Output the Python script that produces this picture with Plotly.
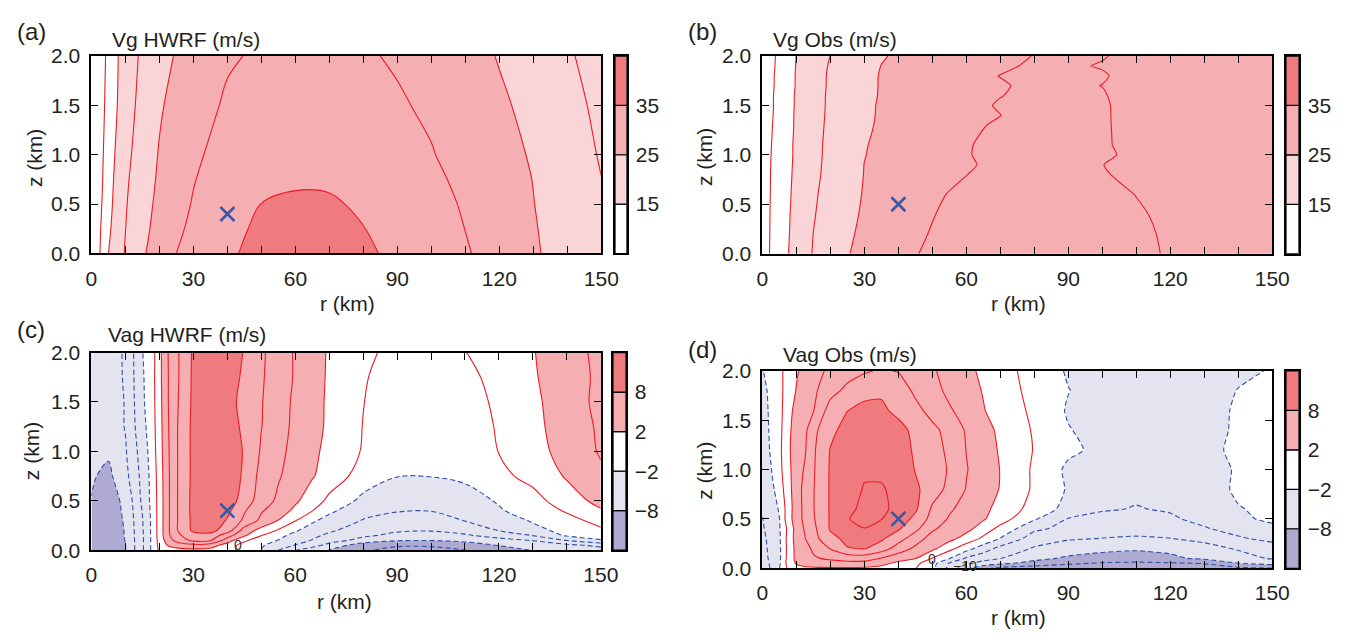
import plotly.graph_objects as go

# ---------------------------------------------------------------------------
# Radius (km) / height (km) grids and field values (m/s) for each panel
# ---------------------------------------------------------------------------

# Vg HWRF
R_VG_HWRF = [0, 2.5, 5, 10, 15, 20, 25, 30, 40, 50, 60, 70, 80, 90, 100, 110, 120, 130, 140, 150]
Z_VG_HWRF = [0, 0.25, 0.5, 0.75, 1.0, 1.5, 2.0]
VG_HWRF = [
    [0, 10.0, 15.0, 20.4, 24.5, 27.0, 30.05, 31.3, 34.5, 36.0, 37.6, 37.5, 35.8, 34.0, 32.3, 30.4, 28.2, 25.5, 23.3, 21.2],
    [0, 9.6, 14.2, 19.95, 24.0, 26.3, 29.3, 30.8, 33.6, 35.9, 36.6, 36.5, 35.1, 33.3, 31.8, 29.95, 28.0, 25.3, 23.1, 20.9],
    [0, 9.0, 13.6, 19.6, 23.6, 25.9, 28.5, 30.3, 32.9, 35.05, 35.6, 35.5, 34.4, 32.8, 31.3, 29.6, 27.6, 25.1, 22.6, 20.3],
    [0, 8.5, 13.2, 19.2, 23.0, 25.6, 27.9, 29.8, 32.3, 33.9, 34.5, 34.4, 33.5, 32.2, 30.8, 29.1, 27.2, 24.9, 22.3, 20.05],
    [0, 8.2, 12.8, 18.7, 22.4, 25.3, 27.4, 29.3, 31.6, 33.0, 33.5, 33.4, 32.6, 31.5, 30.2, 28.6, 26.8, 24.5, 21.9, 19.7],
    [0, 7.6, 12.0, 17.8, 21.6, 24.5, 26.4, 28.1, 30.6, 31.7, 32.1, 32.0, 31.3, 30.4, 29.4, 27.9, 25.8, 23.6, 21.4, 19.0],
    [0, 7.1, 11.5, 17.6, 20.8, 23.6, 25.3, 26.9, 29.5, 30.6, 31.0, 30.9, 30.4, 29.6, 28.5, 27.0, 24.7, 22.6, 20.5, 18.3],
]

# Vg Obs
R_VG_OBS = [0, 2.5, 5, 10, 15, 20, 25, 30, 35, 40, 50, 60, 70, 80, 90, 100, 110, 120, 135, 150]
Z_VG_OBS = [0, 0.2, 0.4, 0.6, 0.8, 0.9, 1.0, 1.1, 1.2, 1.3, 1.4, 1.5, 1.6, 1.7, 1.8, 1.9, 2.0]
VG_OBS = [
    [6, 10.8, 12.9, 16.8, 20.3, 22.5, 24.8, 26.1, 27.3, 28.5, 31.0, 31.7, 32.4, 33.0, 33.0, 32.3, 31.2, 29.5, 28.8, 28.0],
    [6, 10.6, 12.7, 16.6, 20.05, 22.2, 24.4, 25.8, 26.9, 28.05, 30.3, 31.0, 31.7, 32.4, 32.6, 32.0, 31.0, 29.3, 28.6, 28.0],
    [6, 10.5, 12.6, 16.4, 19.7, 21.9, 24.0, 25.5, 26.6, 27.7, 29.8, 31.8, 32.5, 33.0, 32.8, 32.0, 30.6, 28.9, 28.3, 27.8],
    [6, 10.3, 12.4, 16.2, 19.4, 21.6, 23.5, 25.3, 26.2, 27.2, 29.2, 31.2, 32.2, 32.8, 32.6, 31.4, 29.9, 29.0, 28.2, 27.6],
    [6, 10.2, 12.2, 16.0, 19.0, 21.3, 23.3, 25.1, 25.9, 26.7, 28.4, 29.95, 31.2, 32.0, 31.8, 30.6, 28.2, 27.8, 27.5, 27.3],
    [6, 10.1, 12.1, 15.9, 18.9, 21.2, 23.2, 25.05, 25.8, 26.5, 28.0, 29.5, 31.1, 31.8, 31.5, 30.1, 28.1, 27.8, 27.5, 27.3],
    [6, 9.95, 12.0, 15.8, 18.8, 21.1, 23.1, 24.9, 25.8, 26.6, 28.1, 29.7, 31.5, 32.2, 32.0, 30.8, 28.9, 28.3, 27.8, 27.5],
    [6, 9.85, 12.0, 15.8, 18.7, 21.1, 22.9, 24.8, 25.7, 26.5, 28.1, 29.7, 31.2, 32.0, 31.9, 30.5, 28.8, 28.3, 27.8, 27.5],
    [6, 9.7, 11.9, 15.7, 18.6, 21.0, 22.8, 24.6, 25.6, 26.4, 27.9, 29.4, 31.0, 31.8, 31.6, 30.5, 28.7, 28.2, 27.8, 27.5],
    [6, 9.6, 11.8, 15.6, 18.5, 20.9, 22.6, 24.4, 25.5, 26.2, 27.7, 29.1, 30.6, 31.5, 31.5, 30.5, 28.6, 28.2, 27.8, 27.5],
    [6, 9.4, 11.7, 15.6, 18.4, 20.8, 22.5, 24.3, 25.4, 26.0, 27.3, 28.7, 29.95, 32.4, 32.0, 30.6, 28.2, 27.9, 27.6, 27.4],
    [6, 9.3, 11.6, 15.5, 18.4, 20.7, 22.4, 24.2, 25.4, 26.1, 27.5, 28.9, 30.33, 31.3, 31.6, 30.6, 28.1, 27.9, 27.6, 27.4],
    [6, 9.3, 11.6, 15.5, 18.3, 20.7, 22.3, 24.0, 25.3, 25.9, 27.2, 28.6, 29.9, 30.9, 31.4, 30.3, 28.3, 28.0, 27.6, 27.4],
    [6, 9.2, 11.3, 15.3, 18.2, 20.6, 22.3, 24.0, 25.25, 25.9, 27.1, 28.4, 29.6, 30.9, 30.6, 29.95, 28.6, 28.2, 27.7, 27.4],
    [6, 9.1, 11.4, 15.3, 18.1, 20.6, 22.2, 23.9, 25.25, 25.9, 27.3, 28.7, 30.1, 31.0, 31.2, 30.3, 28.8, 28.3, 27.8, 27.5],
    [6, 9.0, 11.1, 15.2, 17.9, 20.4, 21.9, 23.6, 25.06, 25.7, 26.9, 28.1, 29.3, 30.6, 30.4, 29.8, 29.0, 28.5, 27.9, 27.5],
    [6, 9.0, 10.9, 15.1, 17.6, 20.06, 21.6, 23.1, 24.7, 25.5, 26.6, 27.8, 29.0, 30.1, 30.6, 30.2, 29.1, 28.6, 28.0, 27.6],
]

# Vag HWRF
R_VAG_HWRF = [0, 5, 10, 15, 17.5, 20, 22.5, 25, 30, 35, 40, 45, 50, 55, 60, 65, 70, 80, 90, 100, 110, 120, 130, 140, 150]
Z_VAG_HWRF = [0, 0.05, 0.1, 0.15, 0.2, 0.3, 0.4, 0.5, 0.75, 1.0, 1.25, 1.5, 1.75, 2.0]
VAG_HWRF = [
    [-9.5, -9.5, -8.05, -4.3, -1.95, 0.3, 1.0, 1.3, 1.5, 1.3, 0.6, -0.6, -2.05, -4.05, -5.95, -7.0, -8.05, -9.8, -10.5, -10.5, -10.05, -9.0, -7.9, -7.2, -6.8],
    [-9.3, -9.4, -8.05, -4.3, -1.95, 0.6, 2.1, 2.8, 3.4, 3.0, 1.0, -0.8, -1.8, -2.8, -4.1, -5.3, -6.6, -9.2, -9.8, -9.8, -9.2, -7.9, -7.1, -6.5, -5.5],
    [-9.1, -9.3, -7.95, -4.3, -1.95, 0.7, 3.0, 4.6, 6.5, 6.2, 3.05, 0.4, -1.1, -2.05, -3.0, -4.1, -5.2, -6.6, -7.8, -7.9, -7.4, -6.6, -5.9, -3.95, -2.2],
    [-9.0, -9.2, -7.9, -4.3, -1.95, 0.8, 3.5, 5.5, 7.2, 7.4, 4.8, 2.3, 0.1, -1.5, -2.5, -3.5, -4.4, -5.7, -6.4, -6.6, -6.2, -5.3, -3.9, -1.7, -0.8],
    [-8.9, -9.1, -7.9, -4.2, -1.9, 0.8, 3.6, 5.8, 8.4, 8.6, 7.05, 3.1, 1.3, -0.2, -1.8, -2.8, -3.7, -5.05, -5.8, -5.9, -5.4, -3.95, -2.6, -1.4, -0.3],
    [-8.6, -9.0, -7.8, -4.1, -1.9, 0.8, 3.6, 5.8, 8.5, 9.4, 7.8, 5.6, 3.5, 1.95, 0.1, -1.7, -2.7, -4.1, -4.6, -4.7, -3.95, -3.05, -1.8, -0.6, 0.6],
    [-8.3, -8.9, -7.7, -3.9, -1.8, 0.8, 3.6, 5.8, 8.6, 9.7, 8.5, 6.2, 4.2, 2.9, 1.6, 0.05, -1.6, -3.4, -3.9, -3.95, -3.3, -2.2, -1.05, 0.2, 1.8],
    [-8.05, -8.8, -7.6, -3.6, -1.7, 0.8, 3.6, 5.8, 8.6, 9.8, 9.2, 7.05, 5.05, 3.6, 2.3, 1.05, -0.5, -2.5, -3.3, -3.4, -2.9, -1.8, -0.7, 1.05, 2.6],
    [-7.8, -8.45, -6.6, -3.4, -1.6, 0.9, 3.6, 5.8, 8.5, 9.9, 9.6, 7.6, 5.4, 4.2, 3.1, 2.15, 1.2, -0.9, -1.95, -1.95, -1.6, -0.5, 0.6, 2.2, 3.6],
    [-7.7, -7.7, -6.2, -3.05, -1.4, 1.1, 3.7, 5.8, 8.5, 9.7, 9.5, 7.8, 5.8, 4.6, 3.3, 2.4, 1.5, -0.15, -1.4, -1.9, -1.4, 0.05, 1.4, 2.6, 4.2],
    [-7.6, -7.2, -5.9, -2.6, -1.2, 1.2, 3.8, 5.8, 8.5, 9.6, 9.2, 7.5, 6.05, 4.9, 3.5, 2.6, 1.7, -0.05, -1.3, -1.8, -1.1, 0.2, 1.5, 2.9, 4.3],
    [-7.5, -7.05, -5.9, -2.3, -1.1, 1.3, 3.9, 5.7, 8.4, 9.5, 9.05, 7.1, 6.1, 5.0, 3.6, 2.7, 1.7, 0.05, -1.2, -1.7, -0.9, 0.4, 1.6, 3.05, 4.5],
    [-7.4, -6.9, -5.8, -2.2, -1.1, 1.4, 3.9, 5.6, 8.35, 9.4, 9.1, 7.6, 6.2, 5.1, 3.8, 2.8, 1.75, 0.2, -1.05, -1.5, -0.6, 0.7, 1.8, 3.1, 4.4],
    [-7.3, -6.8, -5.8, -2.05, -1.2, 1.4, 3.95, 5.6, 8.3, 9.3, 9.05, 7.9, 6.3, 5.1, 3.8, 2.8, 1.8, 0.6, -0.8, -1.3, -0.05, 0.9, 1.9, 3.2, 4.5],
]

# Vag Obs
R_VAG_OBS = [0, 2.5, 5, 7.5, 10, 12.5, 15, 20, 25, 30, 35, 40, 45, 50, 55, 60, 65, 70, 80, 90, 100, 110, 120, 130, 140, 150]
Z_VAG_OBS = [0, 0.05, 0.1, 0.2, 0.3, 0.4, 0.5, 0.6, 0.8, 1.0, 1.2, 1.4, 1.6, 1.8, 2.0]
VAG_OBS = [
    [-4.8, -3.9, -2.05, 0.3, 1.3, 1.6, 1.7, 1.8, 1.8, 1.7, 1.4, 0.9, 0.1, -1.6, -4.5, -7.6, -9.5, -10.6, -11.2, -11.5, -11.6, -11.6, -11.4, -11.05, -10.5, -10.1],
    [-4.7, -3.8, -2.3, 0.7, 2.2, 2.7, 3.05, 3.3, 3.4, 3.3, 2.6, 1.5, 0.5, -1.2, -4.2, -5.6, -6.8, -7.6, -8.6, -9.6, -10.2, -10.4, -10.2, -9.9, -8.05, -7.2],
    [-4.6, -3.7, -2.4, 0.6, 2.5, 3.2, 3.8, 4.3, 4.8, 4.9, 3.9, 2.9, 2.05, -0.1, -1.9, -4.3, -5.2, -5.95, -7.5, -8.3, -8.6, -8.7, -8.4, -7.6, -6.8, -5.8],
    [-4.5, -3.6, -2.4, 0.5, 2.6, 3.4, 4.3, 6.1, 7.9, 8.1, 7.05, 5.05, 3.6, 2.5, 0.6, -1.2, -3.05, -4.6, -6.2, -7.05, -7.6, -7.8, -7.5, -6.7, -5.8, -5.1],
    [-4.4, -3.5, -2.3, 0.6, 2.8, 3.9, 5.3, 7.4, 8.5, 8.9, 8.3, 6.8, 4.9, 3.2, 2.6, 1.2, -0.4, -2.1, -5.05, -5.8, -6.05, -6.2, -6.05, -5.5, -4.3, -3.4],
    [-4.2, -3.3, -2.2, 0.4, 2.8, 4.2, 5.5, 8.2, 9.7, 9.95, 9.4, 8.2, 6.5, 4.3, 3.2, 2.6, 1.05, -0.6, -3.6, -4.6, -5.2, -5.4, -5.05, -4.2, -3.2, -2.4],
    [-4.05, -3.2, -2.05, 1.05, 3.05, 4.5, 5.8, 8.2, 9.9, 10.6, 10.05, 9.05, 7.5, 5.3, 3.8, 2.9, 2.2, 0.9, -1.8, -4.1, -4.6, -4.8, -4.3, -3.4, -2.3, -1.7],
    [-3.8, -3.05, -1.8, 0.9, 3.1, 4.5, 5.9, 8.2, 9.6, 10.4, 10.3, 9.6, 8.3, 5.7, 4.3, 3.2, 2.3, 1.6, -0.9, -2.6, -3.8, -4.1, -3.8, -3.1, -2.1, -1.6],
    [-3.5, -2.6, -1.05, 1.2, 3.1, 4.6, 5.9, 8.2, 9.4, 10.1, 10.1, 9.7, 8.4, 6.9, 5.5, 3.9, 2.9, 1.9, -0.3, -2.2, -3.2, -3.6, -3.5, -2.9, -1.7, -1.05],
    [-3.2, -2.1, -0.6, 1.4, 3.05, 4.2, 5.8, 8.2, 9.3, 9.8, 9.8, 9.5, 7.9, 7.05, 5.8, 4.1, 3.05, 1.95, -0.3, -2.4, -3.1, -3.3, -3.2, -2.8, -1.8, -1.1],
    [-3.05, -1.8, -0.5, 1.6, 3.05, 3.8, 5.7, 8.1, 9.3, 9.7, 9.8, 9.3, 7.6, 6.8, 5.6, 3.95, 2.9, 1.8, -0.1, -1.6, -2.5, -2.9, -2.9, -2.4, -1.7, -1.1],
    [-2.9, -1.7, -0.6, 1.5, 2.9, 3.5, 5.5, 7.4, 8.9, 9.4, 9.5, 8.9, 7.3, 6.5, 5.3, 3.8, 2.7, 1.6, -0.2, -1.9, -2.7, -3.05, -3.05, -2.5, -1.8, -1.2],
    [-2.8, -1.6, -0.7, 1.3, 2.6, 3.2, 3.9, 6.9, 7.95, 8.6, 8.5, 7.3, 6.6, 5.3, 4.2, 3.3, 2.1, 1.2, -0.4, -2.2, -2.8, -3.05, -3.05, -2.6, -1.8, -1.3],
    [-2.6, -1.5, -0.6, 0.9, 2.1, 2.9, 3.6, 5.3, 6.5, 7.3, 7.6, 7.1, 5.6, 4.6, 3.6, 2.7, 1.9, 1.1, -0.7, -1.95, -2.7, -3.05, -3.05, -2.7, -1.95, -1.5],
    [-2.1, -1.2, -0.4, 0.6, 1.8, 2.6, 3.3, 4.4, 5.2, 5.8, 6.2, 5.9, 5.05, 4.2, 3.4, 2.5, 1.6, 0.8, -0.8, -2.2, -2.7, -2.9, -2.9, -2.7, -2.3, -1.9],
]

# Shading boundaries, colours and contour-line settings
VG_LEVELS = [15, 25, 35]
VAG_LEVELS = [-8, -2, 2, 8]
VG_COLORS = ["#ffffff", "#f9d5d8", "#f5aeb1", "#f07b7e"]
VAG_COLORS = ["#aeaad2", "#e4e3f0", "#ffffff", "#f5aeb1", "#f07b7e"]
VG_LINE_START, VG_LINE_END, VG_LINE_STEP = 10, 40, 5
VAG_LINE_STEP = 2

# Reference point (x) in each panel
CENTER_R = [40, 40, 40, 40]
CENTER_Z = [0.4, 0.5, 0.4, 0.5]

# In-line contour labels
LBL_C_TEXT, LBL_C_R, LBL_C_Z = ["0"], [43.3], [0.05]
LBL_D_TEXT, LBL_D_R, LBL_D_Z = ["0", "\u221210"], [50.0, 59.6], [0.095, 0.02]

R_TICKS = [0, 30, 60, 90, 120, 150]
Z_TICKS = [0, 0.5, 1.0, 1.5, 2.0]

# ---------------------------------------------------------------------------
FONT = "Liberation Sans, Arial, Helvetica, sans-serif"
TXT = "#231f20"
RED = "rgb(236,28,36)"
BLUE = "rgb(44,80,168)"
XBLUE = "rgb(58,88,168)"
W, H = 1360, 639
FS = 21


def fx(x):
    return x / W


def fy(y):
    return 1 - y / H


def step_scale(colors, cuts):
    scale = [[0, colors[0]]]
    for c, (a, b) in zip(cuts, zip(colors[:-1], colors[1:])):
        scale += [[c, a], [c, b]]
    scale.append([1, colors[-1]])
    return scale


panels = [
    dict(letter="(a)", title="Vg HWRF (m/s)", r=R_VG_HWRF, z=Z_VG_HWRF, f=VG_HWRF, kind="vg", smooth=1.0,
         box=(87, 606, 45.7, 250.5), cbar=(620, 632), letter_xy=(26, 20), title_xy=(105.5, 29),
         ztitle_xy=(29, 151), rtitle_xy=(348, 302), labels=None),
    dict(letter="(b)", title="Vg Obs (m/s)", r=R_VG_OBS, z=Z_VG_OBS, f=VG_OBS, kind="vg", smooth=0.6,
         box=(770, 1289, 45.7, 250.7), cbar=(1303, 1316), letter_xy=(709, 20), title_xy=(778.5, 29),
         ztitle_xy=(711, 150), rtitle_xy=(1031, 302), labels=None),
    dict(letter="(c)", title="Vag HWRF (m/s)", r=R_VAG_HWRF, z=Z_VAG_HWRF, f=VAG_HWRF, kind="vag", smooth=1.0,
         box=(87, 605.5, 353.3, 558.3), cbar=(618, 631), letter_xy=(25, 329), title_xy=(102, 335),
         ztitle_xy=(26, 456), rtitle_xy=(345, 611), labels=(LBL_C_TEXT, LBL_C_R, LBL_C_Z)),
    dict(letter="(d)", title="Vag Obs (m/s)", r=R_VAG_OBS, z=Z_VAG_OBS, f=VAG_OBS, kind="vag", smooth=0.6,
         box=(770, 1289, 372.3, 577.0), cbar=(1303, 1316), letter_xy=(709, 350), title_xy=(788.5, 355),
         ztitle_xy=(711.5, 476), rtitle_xy=(1031, 628), labels=(LBL_D_TEXT, LBL_D_R, LBL_D_Z)),
]

fig = go.Figure()
layout = dict(
    width=W, height=H, margin=dict(l=0, r=0, t=0, b=0),
    paper_bgcolor="white", plot_bgcolor="white", showlegend=False,
    font=dict(family=FONT, size=FS, color=TXT),
)
annotations = []
tick_font = dict(family=FONT, size=FS, color=TXT)

for i, p in enumerate(panels):
    k = i + 1
    xa, ya = ("x", "y") if k == 1 else (f"x{k}", f"y{k}")
    x0, x1, ytop, ybot = p["box"]

    if p["kind"] == "vg":
        lv = VG_LEVELS
        fill_scale = step_scale(VG_COLORS, [0.15, 0.5, 0.88])
        fill_c = dict(coloring="fill", start=lv[0], end=lv[-1], size=lv[1] - lv[0], showlines=False)
        colors, ticktext = VG_COLORS, [str(v) for v in lv]
    else:
        lv = VAG_LEVELS
        fill_scale = step_scale(VAG_COLORS, [0.03, 0.39, 0.61, 0.97])
        fill_c = dict(coloring="fill", start=lv[0], end=lv[-1], size=VAG_LINE_STEP, showlines=False)
        colors, ticktext = VAG_COLORS, [str(v).replace("-", "\u2212") for v in lv]

    # shaded field
    fig.add_trace(go.Contour(
        x=p["r"], y=p["z"], z=p["f"], xaxis=xa, yaxis=ya, autocontour=False,
        contours=fill_c, colorscale=fill_scale, showscale=False, hoverinfo="skip",
        line=dict(width=0, smoothing=p["smooth"]),
    ))

    # contour lines
    if p["kind"] == "vg":
        fig.add_trace(go.Contour(
            x=p["r"], y=p["z"], z=p["f"], xaxis=xa, yaxis=ya, autocontour=False,
            contours=dict(coloring="none", start=VG_LINE_START, end=VG_LINE_END, size=VG_LINE_STEP),
            line=dict(color=RED, width=1.1, smoothing=p["smooth"]), showscale=False, hoverinfo="skip",
        ))
    else:
        fig.add_trace(go.Contour(
            x=p["r"], y=p["z"], z=p["f"], xaxis=xa, yaxis=ya, autocontour=False,
            contours=dict(coloring="none", start=0, end=10, size=VAG_LINE_STEP),
            line=dict(color=RED, width=1.1, smoothing=p["smooth"]), showscale=False, hoverinfo="skip",
        ))
        fig.add_trace(go.Contour(
            x=p["r"], y=p["z"], z=p["f"], xaxis=xa, yaxis=ya, autocontour=False,
            contours=dict(coloring="none", start=-12, end=-2, size=VAG_LINE_STEP),
            line=dict(color=BLUE, width=1.1, dash="5px,3px", smoothing=p["smooth"]),
            showscale=False, hoverinfo="skip",
        ))

    # reference point
    fig.add_trace(go.Scatter(
        x=[CENTER_R[i]], y=[CENTER_Z[i]], xaxis=xa, yaxis=ya, mode="markers", hoverinfo="skip",
        marker=dict(symbol="x-thin", size=14, color=XBLUE, line=dict(width=2.6, color=XBLUE)),
    ))

    axis_common = dict(
        showline=True, linecolor="black", linewidth=2, mirror="ticks",
        ticks="inside", ticklen=7, tickwidth=1.4, tickcolor="black",
        showgrid=False, zeroline=False, tickfont=tick_font, fixedrange=True,
    )
    layout["xaxis" if k == 1 else f"xaxis{k}"] = dict(
        axis_common, domain=[fx(x0), fx(x1)], range=[0, 150], tickvals=R_TICKS, anchor=ya,
        minor=dict(dtick=10, tick0=0, ticks="inside", ticklen=7, tickwidth=1.4, tickcolor="black", showgrid=False),
        ticklabelstandoff=5,
    )
    layout["yaxis" if k == 1 else f"yaxis{k}"] = dict(
        axis_common, domain=[fy(ybot), fy(ytop)], range=[0, 2], tickvals=Z_TICKS, tickformat=".1f",
        anchor=xa, ticklabelstandoff=5,
    )

    # colour key
    kc = k + 4
    n = len(colors)
    fig.add_trace(go.Bar(
        x=[0] * n, y=[1] * n, base=list(range(n)), width=1, xaxis=f"x{kc}", yaxis=f"y{kc}",
        marker=dict(color=colors, line=dict(color="black", width=1.2)), hoverinfo="skip",
    ))
    cx0, cx1 = p["cbar"]
    layout[f"xaxis{kc}"] = dict(
        domain=[fx(cx0), fx(cx1)], range=[-0.5, 0.5], anchor=f"y{kc}", showticklabels=False,
        ticks="", showgrid=False, zeroline=False, showline=True, mirror=True, linecolor="black",
        linewidth=1.6, fixedrange=True,
    )
    layout[f"yaxis{kc}"] = dict(
        domain=[fy(ybot), fy(ytop)], range=[0, n], anchor=f"x{kc}", side="right",
        tickvals=list(range(1, n)), ticktext=ticktext, ticks="outside", ticklen=3,
        tickcolor="rgba(0,0,0,0)", showgrid=False, zeroline=False, showline=True, mirror=True,
        linecolor="black", linewidth=1.6, tickfont=tick_font, fixedrange=True,
    )

    # text
    lx, ly = p["letter_xy"]
    annotations.append(dict(text=p["letter"], x=fx(lx), y=fy(ly), xref="paper", yref="paper",
                            showarrow=False, xanchor="center", yanchor="middle",
                            font=dict(family=FONT, size=24, color=TXT)))
    tx, ty = p["title_xy"]
    annotations.append(dict(text=p["title"], x=fx(tx), y=fy(ty), xref="paper", yref="paper",
                            showarrow=False, xanchor="left", yanchor="middle",
                            font=dict(family=FONT, size=FS, color=TXT)))
    zx, zy = p["ztitle_xy"]
    annotations.append(dict(text="z (km)", x=fx(zx), y=fy(zy), xref="paper", yref="paper",
                            showarrow=False, xanchor="center", yanchor="middle", textangle=-90,
                            font=dict(family=FONT, size=FS, color=TXT)))
    rx, ry = p["rtitle_xy"]
    annotations.append(dict(text="r (km)", x=fx(rx), y=fy(ry), xref="paper", yref="paper",
                            showarrow=False, xanchor="center", yanchor="middle",
                            font=dict(family=FONT, size=FS, color=TXT)))
    if p["labels"]:
        for t, lr, lz in zip(*p["labels"]):
            annotations.append(dict(text=t, x=lr, y=lz, xref=xa, yref=ya, showarrow=False,
                                    xanchor="center", yanchor="middle",
                                    font=dict(family=FONT, size=14, color="#333333")))

layout["annotations"] = annotations
fig.update_layout(**layout)
fig.write_html("out.html")
